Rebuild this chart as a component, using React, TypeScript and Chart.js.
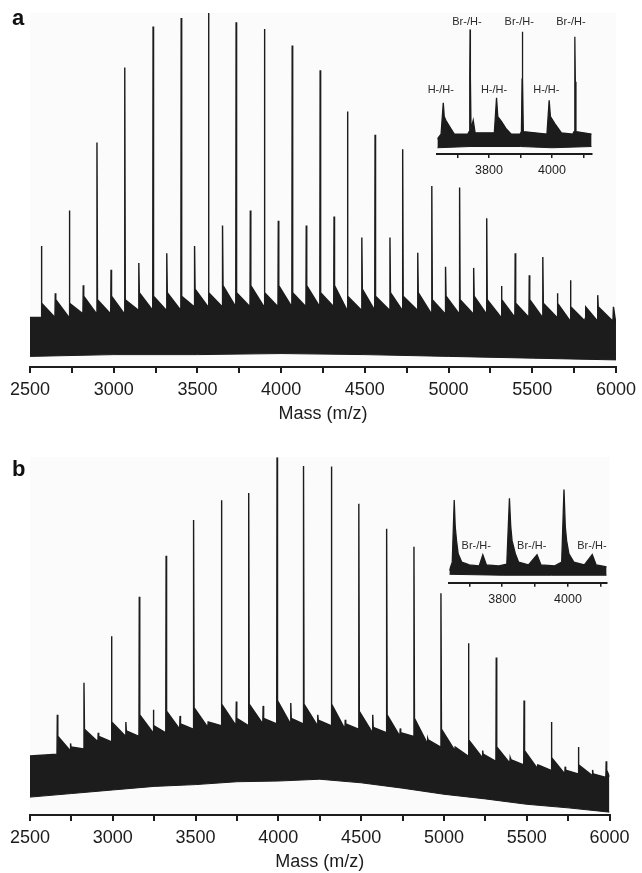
import React, { useEffect, useRef } from 'react';
import { Chart, registerables } from 'chart.js';

Chart.register(...registerables);

const FONT = '"Liberation Sans", Arial, Helvetica, sans-serif';
const INK = '#1c1c1c';

// ---------- axis ticks ----------
const mainTickValues = [2500, 2750, 3000, 3250, 3500, 3750, 4000, 4250, 4500, 4750, 5000, 5250, 5500, 5750, 6000];
const mainTickLabels = [2500, 3000, 3500, 4000, 4500, 5000, 5500, 6000];
const insetTickValues = [3700, 3800, 3900, 4000, 4100];
const insetTickLabels = [3800, 4000];

// ---------- panel a (intensity 0..100) ----------
const aBrMass = [2568, 2735, 2900, 3066, 3235, 3403, 3566, 3731, 3900, 4066, 4233, 4396, 4561, 4726, 4900, 5066, 5228, 5398, 5563, 5728, 5891];
const aBrHeight = [34.2, 44.2, 63.4, 84.6, 96.2, 98.6, 100, 97.4, 95.5, 90.8, 83.8, 72.2, 65.6, 61.5, 51.1, 50.7, 42.0, 32.1, 31.1, 24.5, 20.3];
const aBrBefore = [14, 14, 15, 15, 16, 16, 17, 17, 17, 17, 17, 16, 16, 16, 15, 15, 15, 14, 14, 13, 13];
const aBrAfter = [18, 18, 19, 19, 20, 20, 21, 21, 21, 21, 21, 20, 20, 20, 19, 19, 19, 18, 18, 17, 17];
const aHHMass = [2651, 2818, 2984, 3150, 3317, 3483, 3650, 3816, 3983, 4150, 4316, 4482, 4650, 4816, 4982, 5150, 5316, 5482, 5650, 5816, 5982];
const aHHHeight = [20.8, 23.1, 27.5, 29.4, 32.1, 34.2, 40, 44.2, 41.3, 40, 42.5, 36.6, 36.6, 32.3, 28.3, 28, 22.9, 25.9, 20.8, 13.7, 13.2];
const aHHBefore = [14, 15, 15, 16, 16, 17, 17, 17, 17, 17, 17, 16, 16, 16, 15, 15, 14, 14, 14, 13, 13];
const aHHAfter = [19, 20, 20, 21, 21, 22, 23, 23, 23, 23, 23, 22, 21, 21, 20, 20, 19, 19, 18, 17, 17];
const aEdge = [14, 12];
const aFloorMass = [2500, 3000, 3500, 4000, 4500, 5000, 5500, 6000];
const aFloor = [3, 3.5, 3.5, 3.8, 3.5, 3, 2.5, 2];

// ---------- panel b ----------
const bHHMass = [2665, 2826, 2992, 3160, 3322, 3488, 3656, 3821, 3992, 4152, 4320, 4486, 4654, 4819, 4982, 5148, 5316, 5484, 5649, 5812, 5980];
const bHHHeight = [28, 37, 50, 61, 72.5, 82.5, 88, 90, 100, 97.6, 97.4, 87, 80, 75, 62, 48, 44, 32, 26, 19, 15];
const bHHBefore = [17, 18.5, 20.5, 22, 23, 24, 25, 25, 25.5, 25.5, 25, 24, 23, 22, 19, 16.5, 15, 14, 12.5, 11.5, 10.5];
const bHHAfter = [22, 24, 26, 28, 29, 30, 31, 31, 32, 31, 31, 29, 28, 27, 24, 21, 19, 18, 16, 14, 12.5];
const bBrMass = [2745, 2912, 3079, 3245, 3406, 3576, 3746, 3908, 4075, 4238, 4404, 4570, 4736, 4902, 5068, 5234, 5400, 5566, 5732, 5898];
const bBrHeight = [20, 23, 26, 29.4, 27.7, 26, 31.7, 30.5, 31.3, 28, 26.6, 28, 24.2, 21.4, 19, 18, 16, 14, 13.5, 12.6];
const bBrBefore = [18, 20.5, 22, 23, 24, 24.5, 25, 25.5, 25.5, 25, 24, 23, 22, 20, 18, 16, 14.5, 13, 11.5, 11];
const bBrAfter = [19, 22, 23.5, 25, 25.5, 26, 27, 27, 27, 26.5, 25.5, 24.5, 23, 21, 19, 17, 15.5, 14, 12.5, 11.5];
const bEdge = [16.5, 10.7];
const bFloorMass = [2500, 2750, 3000, 3250, 3500, 3750, 4000, 4250, 4500, 4750, 5000, 5250, 5500, 5750, 6000];
const bFloor = [5, 6, 7, 8, 8.5, 9.3, 9.5, 10, 9, 7.5, 5.8, 4.5, 3, 2, 0.8];

// ---------- inset a ----------
const insetARange = [3636, 4126];
const insetAMass = [3636, 3648, 3655, 3658, 3663, 3675, 3690, 3733, 3737, 3739, 3740, 3741, 3743, 3750, 3756, 3817, 3824, 3828, 3840, 3855, 3870, 3899, 3903, 3905, 3906, 3907, 3909, 3984, 3991, 3995, 4010, 4030, 4066, 4070, 4072, 4073, 4074, 4076, 4126];
const insetAValue = [12, 16, 41, 30, 27, 22, 16, 16, 18, 62, 100, 62, 20, 27, 17, 17, 45, 30, 26, 20, 16, 16, 18, 60, 98, 60, 18, 16, 43, 30, 24, 17, 16, 18, 58, 94, 58, 18, 16];
const insetAFloorMass = [3636, 3740, 3900, 4000, 4126];
const insetAFloor = [5, 6, 6, 5, 6];
const insetALabelText = ['Br-/H-', 'Br-/H-', 'Br-/H-', 'H-/H-', 'H-/H-', 'H-/H-'];
const insetALabelMass = [3730, 3896, 4060, 3647, 3816, 3982];
const insetALabelLevel = [105.8, 105.8, 105.8, 51.2, 51.2, 51.2];

// ---------- inset b ----------
const insetBRange = [3639, 4118];
const insetBMass = [3639, 3648, 3654, 3657, 3661, 3666, 3677, 3700, 3730, 3741, 3752, 3790, 3814, 3822, 3826, 3830, 3840, 3850, 3880, 3906, 3918, 3960, 3981, 3988, 3992, 3996, 4003, 4018, 4050, 4074, 4086, 4118];
const insetBValue = [13, 22, 88.6, 60, 45, 31, 22, 19, 18, 30, 19, 18, 20, 90.4, 60, 45, 31, 22, 19, 30, 19, 18, 22, 100, 60, 45, 31, 22, 19, 30, 19, 17];
const insetBFloorMass = [3639, 3800, 3950, 4118];
const insetBFloor = [9, 8, 8, 8];
const insetBLabelText = ['Br-/H-', 'Br-/H-', 'Br-/H-'];
const insetBLabelMass = [3721, 3890, 4073];
const insetBLabelLevel = [39.3, 39.3, 39.3];

type Pt = { x: number; y: number };
type Peak = { m: number; h: number; before: number; after: number };

function toPeaks(m: number[], h: number[], b: number[], a: number[]): Peak[] {
  return m.map((v, i) => ({ m: v, h: h[i], before: b[i], after: a[i] }));
}

function spectrumTop(edge: number[], peaks: Peak[]): Pt[] {
  const sorted = [...peaks].sort((p, q) => p.m - q.m);
  const pts: Pt[] = [{ x: 2500, y: edge[0] }];
  for (const p of sorted) {
    pts.push({ x: p.m - 2, y: p.before }, { x: p.m, y: p.h }, { x: p.m + 3, y: p.after });
  }
  pts.push({ x: 6000, y: edge[1] });
  return pts;
}

function zip(xs: number[], ys: number[]): Pt[] {
  return xs.map((x, i) => ({ x, y: ys[i] }));
}

const plotBg = {
  id: 'plotBg',
  beforeDraw(chart: any) {
    const { ctx, chartArea: a } = chart;
    ctx.save();
    ctx.fillStyle = '#fbfbfb';
    ctx.fillRect(a.left, a.top, a.right - a.left, a.bottom - a.top);
    ctx.restore();
  },
};

function mainConfig(top: Pt[], floor: Pt[], padTop: number, padRight: number, scaleHeight: number, titlePadBottom: number): any {
  return {
    type: 'line',
    data: {
      datasets: [
        { data: top, borderColor: INK, backgroundColor: INK, borderWidth: 1.4, pointRadius: 0, fill: '+1', tension: 0 },
        { data: floor, borderColor: INK, backgroundColor: INK, borderWidth: 1, pointRadius: 0, fill: false, tension: 0 },
      ],
    },
    options: {
      animation: false,
      responsive: false,
      maintainAspectRatio: false,
      events: [],
      layout: { padding: { left: 30, right: padRight, top: padTop, bottom: 0 } },
      plugins: { legend: { display: false }, tooltip: { enabled: false } },
      scales: {
        x: {
          type: 'linear',
          min: 2500,
          max: 6000,
          afterBuildTicks: (s: any) => { s.ticks = mainTickValues.map((v) => ({ value: v })); },
          afterFit: (s: any) => { s.height = scaleHeight; },
          ticks: {
            autoSkip: false,
            maxRotation: 0,
            padding: 6,
            color: INK,
            font: { family: FONT, size: 18 },
            callback: (v: any) => (mainTickLabels.includes(Number(v)) ? String(v) : ''),
          },
          grid: { drawOnChartArea: false, drawTicks: true, tickLength: 6, color: INK, lineWidth: 2 },
          border: { display: true, color: INK, width: 2 },
          title: {
            display: true,
            text: 'Mass (m/z)',
            color: INK,
            font: { family: FONT, size: 18 },
            padding: { top: 0, bottom: titlePadBottom },
          },
        },
        y: { display: false, min: 0, max: 100 },
      },
    },
    plugins: [plotBg],
  };
}

function insetConfig(trace: Pt[], floor: Pt[], range: number[], pad: any, scaleHeight: number, texts: string[], masses: number[], levels: number[]): any {
  const labelPlugin = {
    id: 'peakLabels',
    afterDraw(chart: any) {
      const { ctx, scales } = chart;
      ctx.save();
      ctx.fillStyle = '#2a2a2a';
      ctx.font = `11px ${FONT}`;
      ctx.textAlign = 'center';
      ctx.textBaseline = 'middle';
      texts.forEach((t, i) => {
        ctx.fillText(t, scales.x.getPixelForValue(masses[i]), scales.y.getPixelForValue(levels[i]));
      });
      ctx.restore();
    },
  };
  return {
    type: 'line',
    data: {
      datasets: [
        { data: trace, borderColor: INK, backgroundColor: INK, borderWidth: 1.3, pointRadius: 0, fill: '+1', tension: 0 },
        { data: floor, borderColor: INK, backgroundColor: INK, borderWidth: 1, pointRadius: 0, fill: false, tension: 0 },
      ],
    },
    options: {
      animation: false,
      responsive: false,
      maintainAspectRatio: false,
      events: [],
      layout: { padding: pad },
      plugins: { legend: { display: false }, tooltip: { enabled: false } },
      scales: {
        x: {
          type: 'linear',
          min: range[0],
          max: range[1],
          afterBuildTicks: (s: any) => { s.ticks = insetTickValues.map((v) => ({ value: v })); },
          afterFit: (s: any) => { s.height = scaleHeight; },
          ticks: {
            autoSkip: false,
            maxRotation: 0,
            padding: 5,
            color: INK,
            font: { family: FONT, size: 12.5 },
            callback: (v: any) => (insetTickLabels.includes(Number(v)) ? String(v) : ''),
          },
          grid: { drawOnChartArea: false, drawTicks: true, tickLength: 4, color: INK, lineWidth: 1.5 },
          border: { display: true, color: INK, width: 2 },
        },
        y: { display: false, min: 0, max: 100 },
      },
    },
    plugins: [labelPlugin],
  };
}

function ChartCanvas(props: { make: () => any; left: number; top: number; width: number; height: number }) {
  const ref = useRef<HTMLCanvasElement | null>(null);
  useEffect(() => {
    if (!ref.current) return;
    const chart = new Chart(ref.current, props.make());
    return () => chart.destroy();
  }, []);
  return (
    <canvas
      ref={ref}
      width={props.width}
      height={props.height}
      style={{ position: 'absolute', left: props.left, top: props.top, width: props.width, height: props.height, display: 'block' }}
    />
  );
}

export default function App() {
  const makeA = () =>
    mainConfig(
      spectrumTop(aEdge, [...toPeaks(aBrMass, aBrHeight, aBrBefore, aBrAfter), ...toPeaks(aHHMass, aHHHeight, aHHBefore, aHHAfter)]),
      zip(aFloorMass, aFloor),
      13, 22, 63, 5,
    );
  const makeB = () =>
    mainConfig(
      spectrumTop(bEdge, [...toPeaks(bHHMass, bHHHeight, bHHBefore, bHHAfter), ...toPeaks(bBrMass, bBrHeight, bBrBefore, bBrAfter)]),
      zip(bFloorMass, bFloor),
      27.3, 32.5, 58, 0,
    );
  const makeInsetA = () =>
    insetConfig(zip(insetAMass, insetAValue), zip(insetAFloorMass, insetAFloor), insetARange,
      { left: 17.3, right: 28.3, top: 29.3, bottom: 0 }, 31, insetALabelText, insetALabelMass, insetALabelLevel);
  const makeInsetB = () =>
    insetConfig(zip(insetBMass, insetBValue), zip(insetBFloorMass, insetBFloor), insetBRange,
      { left: 19.3, right: 23.3, top: 49.3, bottom: 0 }, 32.3, insetBLabelText, insetBLabelMass, insetBLabelLevel);

  const panelLabel: React.CSSProperties = {
    position: 'absolute',
    left: 12,
    fontFamily: FONT,
    fontWeight: 'bold',
    fontSize: 22,
    lineHeight: '22px',
    color: '#111',
  };

  return (
    <div style={{ position: 'absolute', left: 0, top: 0, width: 642, height: 873, background: '#ffffff', overflow: 'hidden' }}>
      <ChartCanvas make={makeA} left={0} top={0} width={642} height={430} />
      <ChartCanvas make={makeB} left={0} top={430} width={642} height={443} />
      <ChartCanvas make={makeInsetA} left={420} top={0} width={200} height={185} />
      <ChartCanvas make={makeInsetB} left={430} top={440} width={200} height={175} />
      <div style={{ ...panelLabel, top: 6.5 }}>a</div>
      <div style={{ ...panelLabel, top: 458 }}>b</div>
    </div>
  );
}
